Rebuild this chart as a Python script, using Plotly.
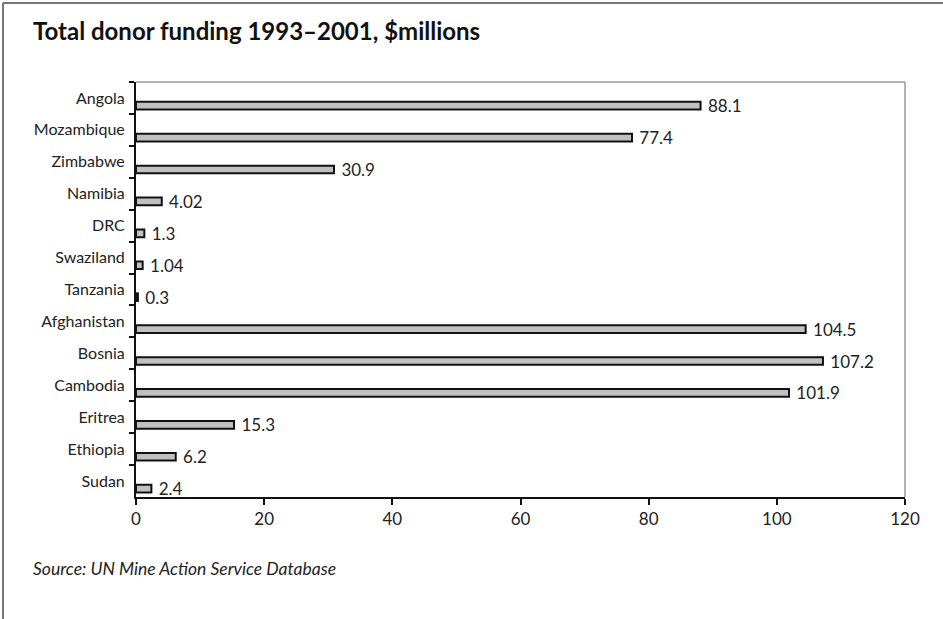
import plotly.graph_objects as go

countries = ["Angola", "Mozambique", "Zimbabwe", "Namibia", "DRC", "Swaziland",
             "Tanzania", "Afghanistan", "Bosnia", "Cambodia", "Eritrea", "Ethiopia", "Sudan"]
funding = [88.1, 77.4, 30.9, 4.02, 1.3, 1.04, 0.3, 104.5, 107.2, 101.9, 15.3, 6.2, 2.4]
x_ticks = [0, 20, 40, 60, 80, 100, 120]

title_text = "Total donor funding 1993–2001, $millions"
source_text = "Source: UN Mine Action Service Database"

FONT = "Lato, 'Open Sans', sans-serif"
TXT = "#222222"

W, H = 943, 619
L, R, T, B = 136, 38, 82, 122
pw, ph = W - L - R, H - T - B

def px(xp):
    return (xp - L) / pw

def py(yp):
    return (H - B - yp) / ph

fig = go.Figure()
fig.add_trace(go.Bar(
    x=funding, y=countries, orientation="h",
    marker=dict(color="#c0c0c0", line=dict(color="#111111", width=2)),
    width=0.24, offset=0.12,
    text=[str(v) for v in funding], texttemplate="\u00a0%{text}",
    textposition="outside", constraintext="none",
    textfont=dict(family=FONT, size=17, color=TXT),
    outsidetextfont=dict(family=FONT, size=17, color=TXT),
    cliponaxis=False, hoverinfo="skip",
))

shapes = [
    dict(type="line", xref="paper", yref="paper", x0=px(3), x1=px(943), y0=py(3), y1=py(3),
         line=dict(color="#777777", width=2)),
    dict(type="line", xref="paper", yref="paper", x0=px(3), x1=px(3), y0=py(3), y1=py(619),
         line=dict(color="#777777", width=2)),
    dict(type="line", xref="paper", yref="paper", x0=0, x1=1, y0=1, y1=1,
         line=dict(color="#999999", width=1.5), layer="below"),
    dict(type="line", xref="paper", yref="paper", x0=1, x1=1, y0=0, y1=1,
         line=dict(color="#999999", width=1.5), layer="below"),
]

fig.update_layout(
    width=W, height=H,
    margin=dict(l=L, r=R, t=T, b=B),
    paper_bgcolor="white", plot_bgcolor="white",
    showlegend=False,
    shapes=shapes,
    font=dict(family=FONT, color=TXT),
    xaxis=dict(range=[0, 120], tickvals=x_ticks, showgrid=False, zeroline=False,
               showline=True, linecolor="#111111", linewidth=2,
               ticks="outside", ticklen=6, tickwidth=1.5, tickcolor="#111111",
               tickfont=dict(family=FONT, size=17, color=TXT), fixedrange=True),
    yaxis=dict(type="category", autorange="reversed", showgrid=False, zeroline=False,
               showline=True, linecolor="#111111", linewidth=2,
               ticks="outside", ticklen=5, tickwidth=1.5, tickcolor="#111111",
               tickson="boundaries", ticklabelstandoff=6,
               tickfont=dict(family=FONT, size=16, color=TXT), fixedrange=True),
    annotations=[
        dict(text="<b>" + title_text + "</b>", xref="paper", yref="paper",
             x=px(31), y=py(31), xanchor="left", yanchor="middle", showarrow=False,
             font=dict(family=FONT, size=24, color="#111111")),
        dict(text="<i>" + source_text + "</i>", xref="paper", yref="paper",
             x=px(31), y=py(568), xanchor="left", yanchor="middle", showarrow=False,
             font=dict(family=FONT, size=17.5, color=TXT)),
    ],
)

fig.write_html("out.html")
